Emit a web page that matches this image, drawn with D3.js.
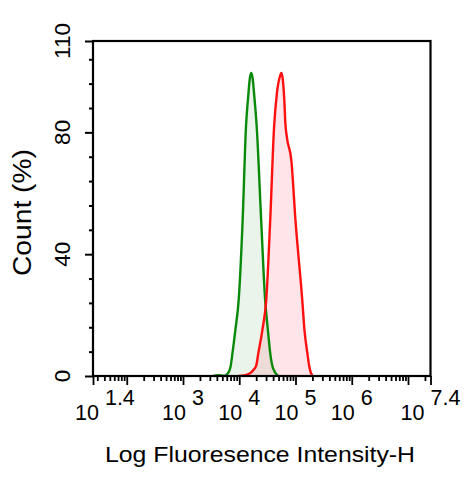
<!DOCTYPE html>
<html>
<head>
<meta charset="utf-8">
<script src="https://cdn.jsdelivr.net/npm/d3@7"></script>
<style>
  body { margin: 0; background: #fff; }
  svg { display: block; font-family: "Liberation Sans", Arial, sans-serif; }
</style>
</head>
<body>
<div id="chart"></div>
<script>
// histogram data, x given as log10 of intensity, y as count (%)
var greenLog   = [3.54, 3.62, 3.73, 3.79, 3.84, 3.88, 3.93, 3.99, 4.06, 4.12, 4.16, 4.19, 4.213, 4.236, 4.267, 4.31, 4.39, 4.46, 4.51, 4.55, 4.60, 4.69];
var greenCount = [0,    0.3,  0,    0.7,  2.6,  7.6,  15,   25,   51,   82,   92,   98,   99.5,  98,    92,    82,   51,   25,   15,   7.6,  2.6,  0];

var redLog   = [3.98, 4.11, 4.20, 4.25, 4.30, 4.34, 4.41, 4.48, 4.55, 4.62, 4.67, 4.725, 4.747, 4.77, 4.80, 4.82, 4.85, 4.925, 5.00, 5.12, 5.16, 5.21, 5.25, 5.30];
var redCount = [0,    0.3,  1,    2,    3.3,  7.6,  15,   25,   51,   82,   93,   98.5,  99.5,  98,   91,   83,   78,   71,    51,   25,   15,   7.6,  2.6,  0];

var yMajor = [0, 40, 80, 110];
var yMinor = [8, 16, 24, 32, 48, 56, 64, 72, 88, 96, 104];
var xMajorExp = [1.4, 2, 3, 4, 5, 6, 7, 7.4];
var xLabelExp = ["1.4", "3", "4", "5", "6", "7.4"];

var width = 476, height = 479;
var svg = d3.select("#chart").append("svg")
  .attr("width", width).attr("height", height);

var x = d3.scaleLog()
  .domain([Math.pow(10, 1.4), Math.pow(10, 7.4)])
  .range([93, 430.5]);
var y = d3.scaleLinear()
  .domain([0, 110])
  .range([376, 41]);

// curves
var area = d3.area()
  .x(function(d) { return x(Math.pow(10, d[0])); })
  .y0(y(0))
  .y1(function(d) { return y(d[1]); })
  .curve(d3.curveMonotoneX);
var line = area.lineY1();

var green = d3.zip(greenLog, greenCount);
var red = d3.zip(redLog, redCount);

svg.append("path").datum(green).attr("d", area)
  .attr("fill", "rgb(0,110,0)").attr("fill-opacity", 0.08);
svg.append("path").datum(red).attr("d", area)
  .attr("fill", "rgb(255,40,70)").attr("fill-opacity", 0.12);
svg.append("path").datum(green).attr("d", line)
  .attr("fill", "none").attr("stroke", "#0a8a0a").attr("stroke-width", 2.4);
svg.append("path").datum(red).attr("d", line)
  .attr("fill", "none").attr("stroke", "#ff1010").attr("stroke-width", 2.4);

// frame
svg.append("rect")
  .attr("x", x.range()[0]).attr("y", y(110))
  .attr("width", x.range()[1] - x.range()[0])
  .attr("height", y(0) - y(110))
  .attr("fill", "none").attr("stroke", "#000").attr("stroke-width", 2.2);

// y axis
var yAx = svg.append("g").attr("transform", "translate(" + x.range()[0] + ",0)");
yAx.call(d3.axisLeft(y).tickValues(yMajor).tickSize(8).tickFormat(""));
yAx.append("g").call(d3.axisLeft(y).tickValues(yMinor).tickSize(4).tickFormat(""));
yAx.selectAll(".domain").remove();
yAx.selectAll("line").attr("stroke", "#000").attr("stroke-width", 2);

yMajor.forEach(function(v) {
  svg.append("text")
    .attr("transform", "translate(70," + y(v) + ") rotate(-90)")
    .attr("text-anchor", "middle")
    .attr("font-size", 22.5)
    .text(v);
});

// x axis
var xMinor = [];
for (var k = 1; k <= 7; k++) {
  for (var m = 2; m <= 9; m++) {
    var v = m * Math.pow(10, k);
    if (v > x.domain()[0] && v < x.domain()[1]) xMinor.push(v);
  }
}
var xAx = svg.append("g").attr("transform", "translate(0," + y(0) + ")");
xAx.call(d3.axisBottom(x).tickValues(xMajorExp.map(function(e) { return Math.pow(10, e); })).tickSize(9).tickFormat(""));
xAx.append("g").call(d3.axisBottom(x).tickValues(xMinor).tickSize(5).tickFormat(""));
xAx.selectAll(".domain").remove();
xAx.selectAll("line").attr("stroke", "#000").attr("stroke-width", 1.8);

xLabelExp.forEach(function(e, i) {
  var t = svg.append("text")
    .attr("x", x(Math.pow(10, +e)) + (i == 0 ? -18 : 0))
    .attr("y", 420)
    .attr("text-anchor", i == 0 ? "start" : "middle")
    .attr("font-size", 21.5);
  t.append("tspan").text("10");
  t.append("tspan").attr("dx", 6).attr("dy", -15).text(e);
});

// titles
svg.append("text")
  .attr("x", 260).attr("y", 462)
  .attr("text-anchor", "middle")
  .attr("font-size", 22)
  .attr("textLength", 310).attr("lengthAdjust", "spacingAndGlyphs")
  .text("Log Fluoresence Intensity-H");

svg.append("text")
  .attr("transform", "translate(31,212.5) rotate(-90)")
  .attr("text-anchor", "middle")
  .attr("font-size", 25)
  .attr("textLength", 127).attr("lengthAdjust", "spacingAndGlyphs")
  .text("Count  (%)");
</script>
</body>
</html>
